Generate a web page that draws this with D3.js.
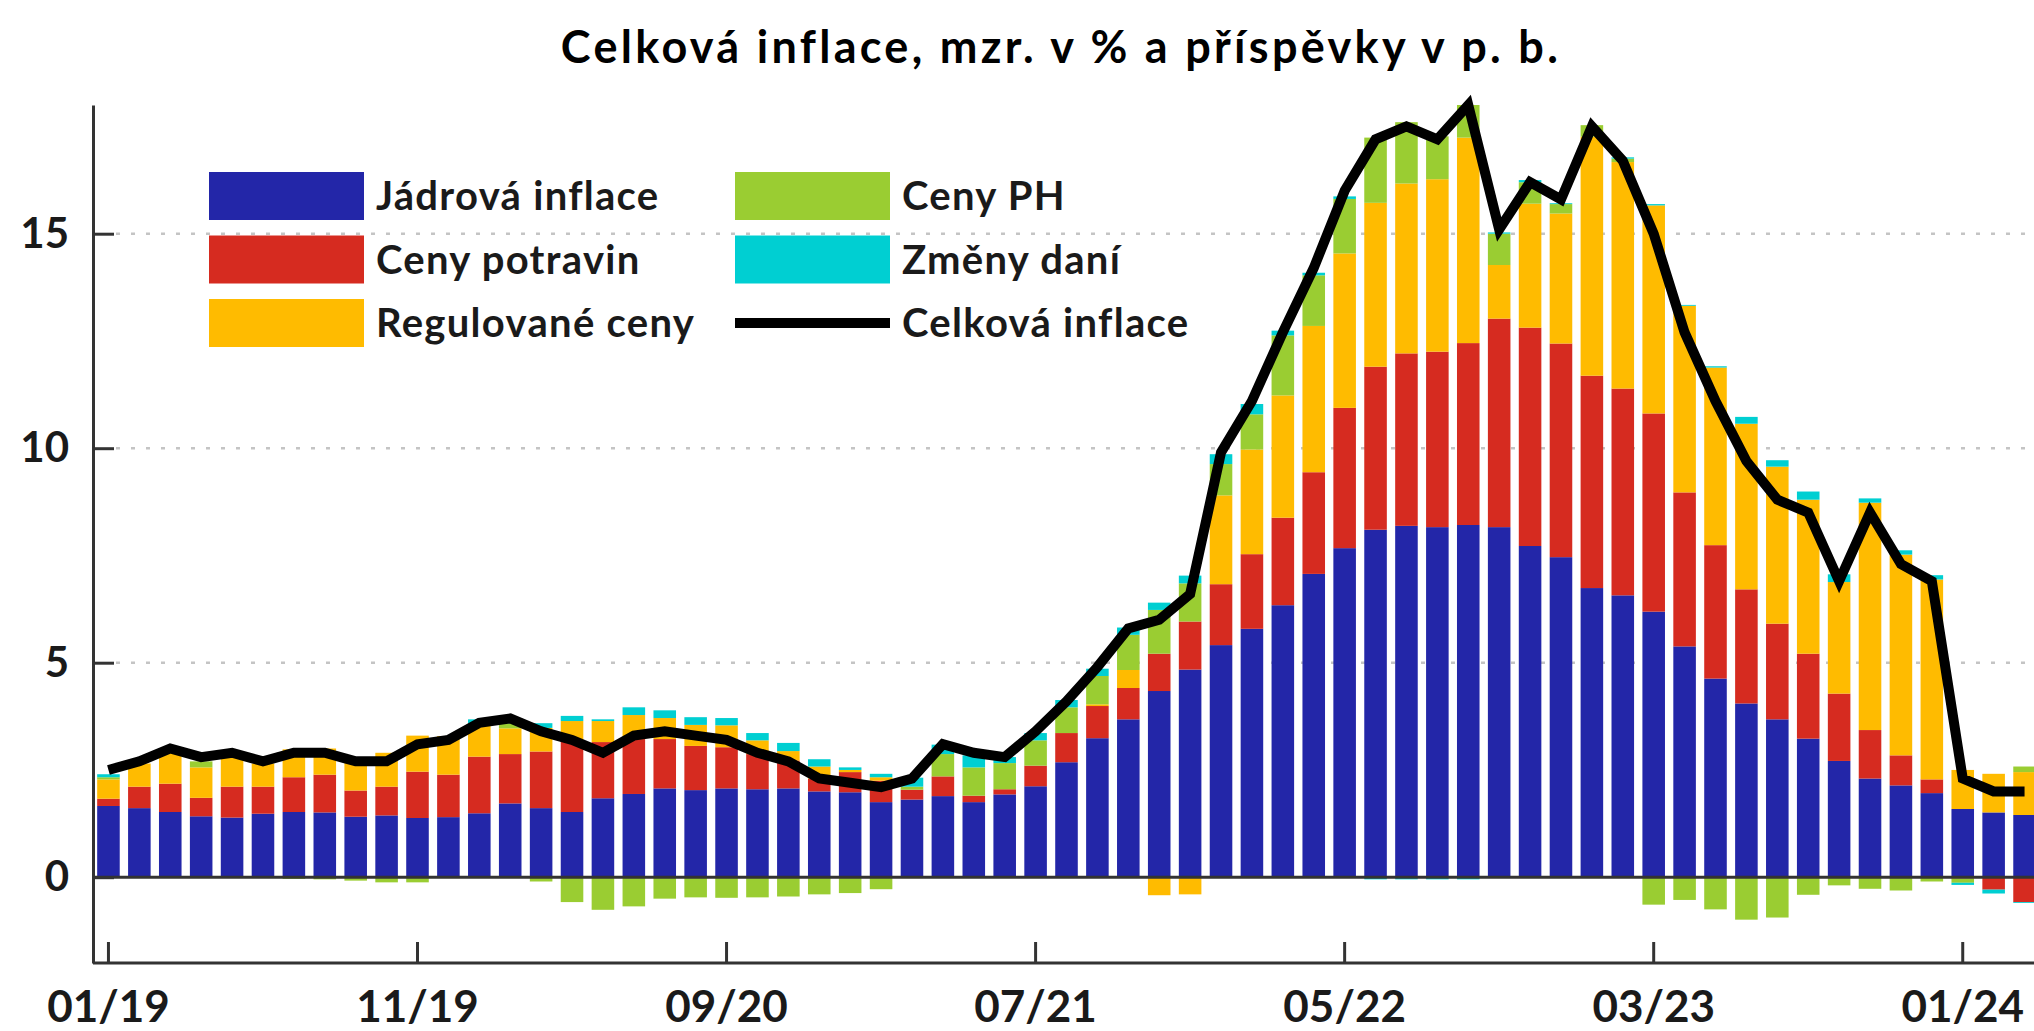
<!DOCTYPE html>
<html>
<head>
<meta charset="utf-8">
<script src="https://cdn.jsdelivr.net/npm/d3@7"></script>
<style>
    body { margin: 0; background: #fff; }
    text { font-family: Lato, "Open Sans", sans-serif; font-weight: 700; fill: #1a1a1a; }
</style>
</head>
<body>
<div id="chart"></div>
<script>
// Months 01/19 .. 03/24
const months = [];
for (let y = 19; y <= 24; y++) {
    for (let m = 1; m <= 12; m++) {
        if (y === 24 && m > 3) break;
        months.push(String(m).padStart(2, '0') + '/' + y);
    }
}

// Contributions in p.p.
const core = [1.66, 1.61, 1.52, 1.42, 1.39, 1.48, 1.52, 1.51, 1.41, 1.44, 1.38, 1.40,
    1.49, 1.72, 1.61, 1.52, 1.84, 1.94, 2.07, 2.03, 2.07, 2.05, 2.07, 2.00,
    1.98, 1.75, 1.81, 1.89, 1.75, 1.93, 2.12, 2.68, 3.24, 3.68, 4.34, 4.84,
    5.41, 5.79, 6.34, 7.07, 7.67, 8.10, 8.19, 8.16, 8.21, 8.16, 7.72, 7.46,
    6.74, 6.57, 6.19, 5.38, 4.63, 4.05, 3.68, 3.23, 2.71, 2.30, 2.14, 1.96,
    1.59, 1.51, 1.45];
const food = [0.17, 0.50, 0.66, 0.43, 0.72, 0.63, 0.81, 0.88, 0.61, 0.67, 1.08, 0.99,
    1.32, 1.15, 1.32, 1.67, 1.31, 1.28, 1.15, 1.03, 0.96, 0.82, 0.65, 0.30,
    0.47, 0.50, 0.23, 0.46, 0.15, 0.12, 0.48, 0.68, 0.75, 0.73, 0.87, 1.12,
    1.42, 1.74, 2.04, 2.37, 3.27, 3.80, 4.02, 4.09, 4.24, 4.86, 5.09, 4.98,
    4.95, 4.82, 4.62, 3.59, 3.11, 2.66, 2.23, 1.98, 1.57, 1.13, 0.70, 0.32,
    -0.03, -0.29, -0.58];
const regulated = [0.45, 0.54, 0.80, 0.71, 0.74, 0.54, 0.65, 0.61, 0.67, 0.79, 0.84, 0.90,
    0.78, 0.60, 0.55, 0.45, 0.49, 0.56, 0.49, 0.49, 0.51, 0.32, 0.22, 0.28,
    0.05, 0.08, -0.02, -0.01, 0, 0, -0.01, 0, 0.04, 0.42, -0.42, -0.40,
    2.07, 2.44, 2.85, 3.41, 3.60, 3.82, 3.96, 4.02, 4.79, 1.25, 2.89, 3.03,
    5.57, 5.28, 4.85, 4.35, 4.14, 3.86, 3.66, 3.59, 2.60, 5.30, 4.68, 4.66,
    0.91, 0.90, 1.00];
const fuel = [0.05, 0, 0, 0.14, 0, 0, -0.04, -0.05, -0.08, -0.12, -0.12, -0.02,
    0, 0.12, -0.10, -0.58, -0.76, -0.68, -0.50, -0.47, -0.48, -0.47, -0.45, -0.40,
    -0.37, -0.28, 0.07, 0.52, 0.66, 0.61, 0.59, 0.60, 0.66, 0.82, 1.02, 0.89,
    0.73, 0.82, 1.40, 1.18, 1.27, 1.52, 1.43, 1.00, 0.76, 0.73, 0.50, 0.22,
    0.27, 0.08, -0.64, -0.53, -0.75, -0.99, -0.94, -0.41, -0.19, -0.27, -0.31, -0.10,
    -0.10, 0, 0.13];
const taxes = [0.07, 0, 0, 0, 0, 0, 0, 0, 0, 0, 0, 0,
    0.09, 0.03, 0.11, 0.12, 0.04, 0.18, 0.18, 0.18, 0.17, 0.17, 0.19, 0.17,
    0.06, 0.08, 0.21, 0.22, 0.28, 0.14, 0.17, 0.17, 0.17, 0.17, 0.17, 0.18,
    0.23, 0.24, 0.11, 0.06, 0.06, -0.05, -0.05, -0.05, -0.05, 0.03, 0.05, 0.02,
    0, 0.03, 0.03, 0.02, 0.03, 0.16, 0.15, 0.19, 0.18, 0.10, 0.10, 0.10,
    -0.05, -0.09, -0.02];
const headline = [2.5, 2.7, 3.0, 2.8, 2.9, 2.7, 2.9, 2.9, 2.7, 2.7, 3.1, 3.2,
    3.6, 3.7, 3.4, 3.2, 2.9, 3.3, 3.4, 3.3, 3.2, 2.9, 2.7, 2.3,
    2.2, 2.1, 2.3, 3.1, 2.9, 2.8, 3.4, 4.1, 4.9, 5.8, 6.0, 6.6,
    9.9, 11.1, 12.7, 14.2, 16.0, 17.2, 17.5, 17.2, 18.0, 15.1, 16.2, 15.8,
    17.5, 16.7, 15.0, 12.7, 11.1, 9.7, 8.8, 8.5, 6.9, 8.5, 7.3, 6.9,
    2.3, 2.0, 2.0];

const seriesNames = ['Jádrová inflace', 'Ceny potravin', 'Regulované ceny', 'Ceny PH', 'Změny daní'];
const seriesKeys = ['core', 'food', 'regulated', 'fuel', 'taxes'];
const seriesColors = ['#2326a8', '#d62b20', '#ffbb00', '#9acd32', '#00cfd2'];
const yTicks = [0, 5, 10, 15];
const xTickLabels = ['01/19', '11/19', '09/20', '07/21', '05/22', '03/23', '01/24'];

const width = 2034;
const height = 1031;

const rows = months.map((m, i) => ({
    month: m,
    core: core[i],
    food: food[i],
    regulated: regulated[i],
    fuel: fuel[i],
    taxes: taxes[i]
}));

const svg = d3.select('#chart')
    .append('svg')
    .attr('width', width)
    .attr('height', height);

const x = d3.scaleBand()
    .domain(months)
    .range([93, 2040])
    .paddingInner(0.27)
    .paddingOuter(0.135);

const y = d3.scaleLinear()
    .domain([-2, 18])
    .range([963, 105]);

// Gridlines (dotted)
svg.append('g')
    .selectAll('line')
    .data(yTicks.filter(d => d > 0))
    .enter()
    .append('line')
    .attr('x1', 116)
    .attr('x2', width)
    .attr('y1', d => y(d))
    .attr('y2', d => y(d))
    .attr('stroke', '#c4c4c4')
    .attr('stroke-width', 2.5)
    .attr('stroke-dasharray', '4 11');

// Stacked bars
const stacked = d3.stack()
    .keys(seriesKeys)
    .offset(d3.stackOffsetDiverging)(rows);

svg.append('g')
    .selectAll('g')
    .data(stacked)
    .enter()
    .append('g')
    .attr('fill', (d, i) => seriesColors[i])
    .selectAll('rect')
    .data(d => d)
    .enter()
    .append('rect')
    .attr('x', d => x(d.data.month))
    .attr('y', d => y(Math.max(d[0], d[1])))
    .attr('width', x.bandwidth())
    .attr('height', d => Math.abs(y(d[0]) - y(d[1])));

// Zero line
svg.append('line')
    .attr('x1', 93)
    .attr('x2', width)
    .attr('y1', y(0))
    .attr('y2', y(0))
    .attr('stroke', '#333')
    .attr('stroke-width', 3);

// Headline inflation line
const line = d3.line()
    .x((d, i) => x(months[i]) + x.bandwidth() / 2)
    .y(d => y(d));

svg.append('path')
    .datum(headline)
    .attr('d', line)
    .attr('fill', 'none')
    .attr('stroke', '#000')
    .attr('stroke-width', 10)
    .attr('stroke-linejoin', 'miter');

// Axes
const xAxis = d3.axisBottom(x)
    .tickValues(xTickLabels)
    .tickSizeInner(-21)
    .tickSizeOuter(0)
    .tickPadding(28);

svg.append('g')
    .attr('transform', `translate(0, ${y(-2)})`)
    .call(xAxis)
    .call(g => g.select('.domain').attr('stroke', '#333').attr('stroke-width', 3).attr('d', `M93,0H${width}`))
    .call(g => g.selectAll('.tick line').attr('stroke', '#333').attr('stroke-width', 3))
    .call(g => g.selectAll('.tick text').attr('font-size', 44).attr('fill', '#222')
        .style('font-family', 'Lato, sans-serif').style('font-weight', 700));

const yAxis = d3.axisLeft(y)
    .tickValues(yTicks)
    .tickSizeInner(-21)
    .tickSizeOuter(0)
    .tickPadding(24);

svg.append('g')
    .attr('transform', 'translate(93, 0)')
    .call(yAxis)
    .call(g => g.select('.domain').attr('stroke', '#333').attr('stroke-width', 3))
    .call(g => g.selectAll('.tick line').attr('stroke', '#333').attr('stroke-width', 3))
    .call(g => g.selectAll('.tick text').attr('font-size', 42).attr('fill', '#222')
        .style('font-family', 'Lato, sans-serif').style('font-weight', 700));

// Title
svg.append('text')
    .attr('x', 1061)
    .attr('y', 63)
    .attr('text-anchor', 'middle')
    .attr('font-size', 45)
    .style('letter-spacing', '3.3px')
    .style('fill', '#000')
    .text('Celková inflace, mzr. v % a příspěvky v p. b.');

// Legend
const legendItems = seriesNames.map((name, i) => ({ name: name, color: seriesColors[i], type: 'rect' }))
    .concat([{ name: 'Celková inflace', color: '#000', type: 'line' }]);

const legend = svg.append('g');
legendItems.forEach((item, i) => {
    const col = Math.floor(i / 3);
    const row = i % 3;
    const lx = col === 0 ? 209 : 735;
    const ly = 196 + row * 63.5;
    const g = legend.append('g').attr('transform', `translate(${lx}, ${ly})`);
    if (item.type === 'rect') {
        g.append('rect')
            .attr('x', 0)
            .attr('y', -24)
            .attr('width', 155)
            .attr('height', 48)
            .attr('fill', item.color);
    } else {
        g.append('line')
            .attr('x1', 0)
            .attr('x2', 155)
            .attr('y1', 0)
            .attr('y2', 0)
            .attr('stroke', item.color)
            .attr('stroke-width', 10);
    }
    g.append('text')
        .attr('x', 167)
        .attr('y', 0)
        .attr('dy', '0.35em')
        .attr('font-size', 40)
        .style('letter-spacing', '1.3px')
        .text(item.name);
});
</script>
</body>
</html>
